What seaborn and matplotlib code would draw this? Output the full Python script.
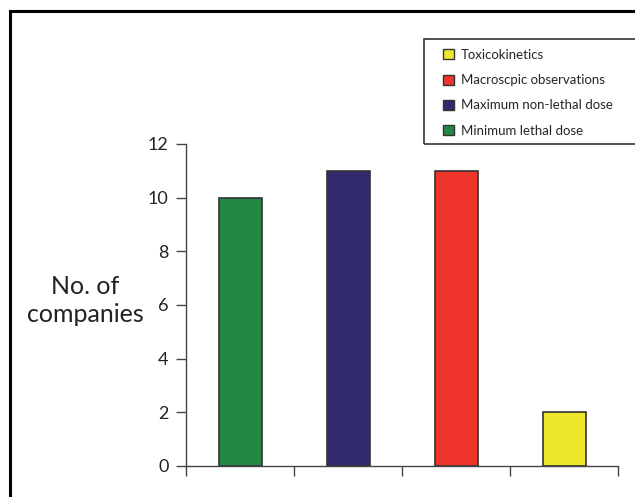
import matplotlib
matplotlib.use("Agg")
import matplotlib.pyplot as plt
import matplotlib.patches as mpatches
import seaborn as sns

# Data
categories = ["Minimum lethal dose", "Maximum non-lethal dose",
              "Macroscpic observations", "Toxicokinetics"]
companies = [10, 11, 11, 2]
bar_colors = ["#228843", "#312b6d", "#ee342b", "#ede72e"]
y_ticks = [0, 2, 4, 6, 8, 10, 12]

sns.set_theme(style="white")
plt.rcParams["font.family"] = ["Lato", "DejaVu Sans"]

fig = plt.figure(figsize=(6.35, 4.97), dpi=100)
ax = fig.add_axes([0.2937, 0.0624, 0.6803, 0.648])

sns.barplot(x=categories, y=companies, hue=categories, palette=bar_colors,
            saturation=1, width=0.4, edgecolor="#333333", linewidth=1.2,
            legend=True, ax=ax)

# axes styling
ax.set_xlim(-0.5, 3.5)
ax.set_ylim(0, 12)
ax.set_yticks(y_ticks)
ax.set_yticklabels([str(t) for t in y_ticks], fontsize=13, color="#222222")
ax.set_xticks([-0.5, 0.5, 1.5, 2.5, 3.5])
ax.set_xticklabels([])
ax.tick_params(axis="both", direction="out", length=7, width=1, color="#444444",
               left=True, bottom=True, pad=6)
ax.set_xlabel("")
ax.set_ylabel("")
for side in ["top", "right"]:
    ax.spines[side].set_visible(False)
for side in ["left", "bottom"]:
    ax.spines[side].set_color("#444444")
    ax.spines[side].set_linewidth(1)

fig.text(0.134, 0.395, "No. of\ncompanies", ha="center", va="center",
         fontsize=18, linespacing=1.25, color="#222222")

# legend, reversed order, in a hand-drawn box that runs off the right edge
handles, labels = ax.get_legend_handles_labels()
ax.get_legend().remove()
leg = fig.legend(handles[::-1], labels[::-1], loc="upper left",
                 bbox_to_anchor=(0.690, 0.912), frameon=False, fontsize=9.5,
                 handlelength=0.8, handleheight=0.8, handletextpad=0.5,
                 labelspacing=1.0, borderaxespad=0)
for h in leg.legend_handles:
    h.set_edgecolor("#333333")
    h.set_linewidth(1)

fig.patches.append(mpatches.Rectangle((0.667, 0.711), 0.4, 0.21,
                                      transform=fig.transFigure, fill=False,
                                      edgecolor="#333333", linewidth=1.2))
# outer frame around the figure (cut off at the right and bottom)
fig.patches.append(mpatches.Rectangle((0.016, -0.1), 1.1, 1.078,
                                      transform=fig.transFigure, fill=False,
                                      edgecolor="black", linewidth=2.2))

fig.savefig("out.png", dpi=100)
